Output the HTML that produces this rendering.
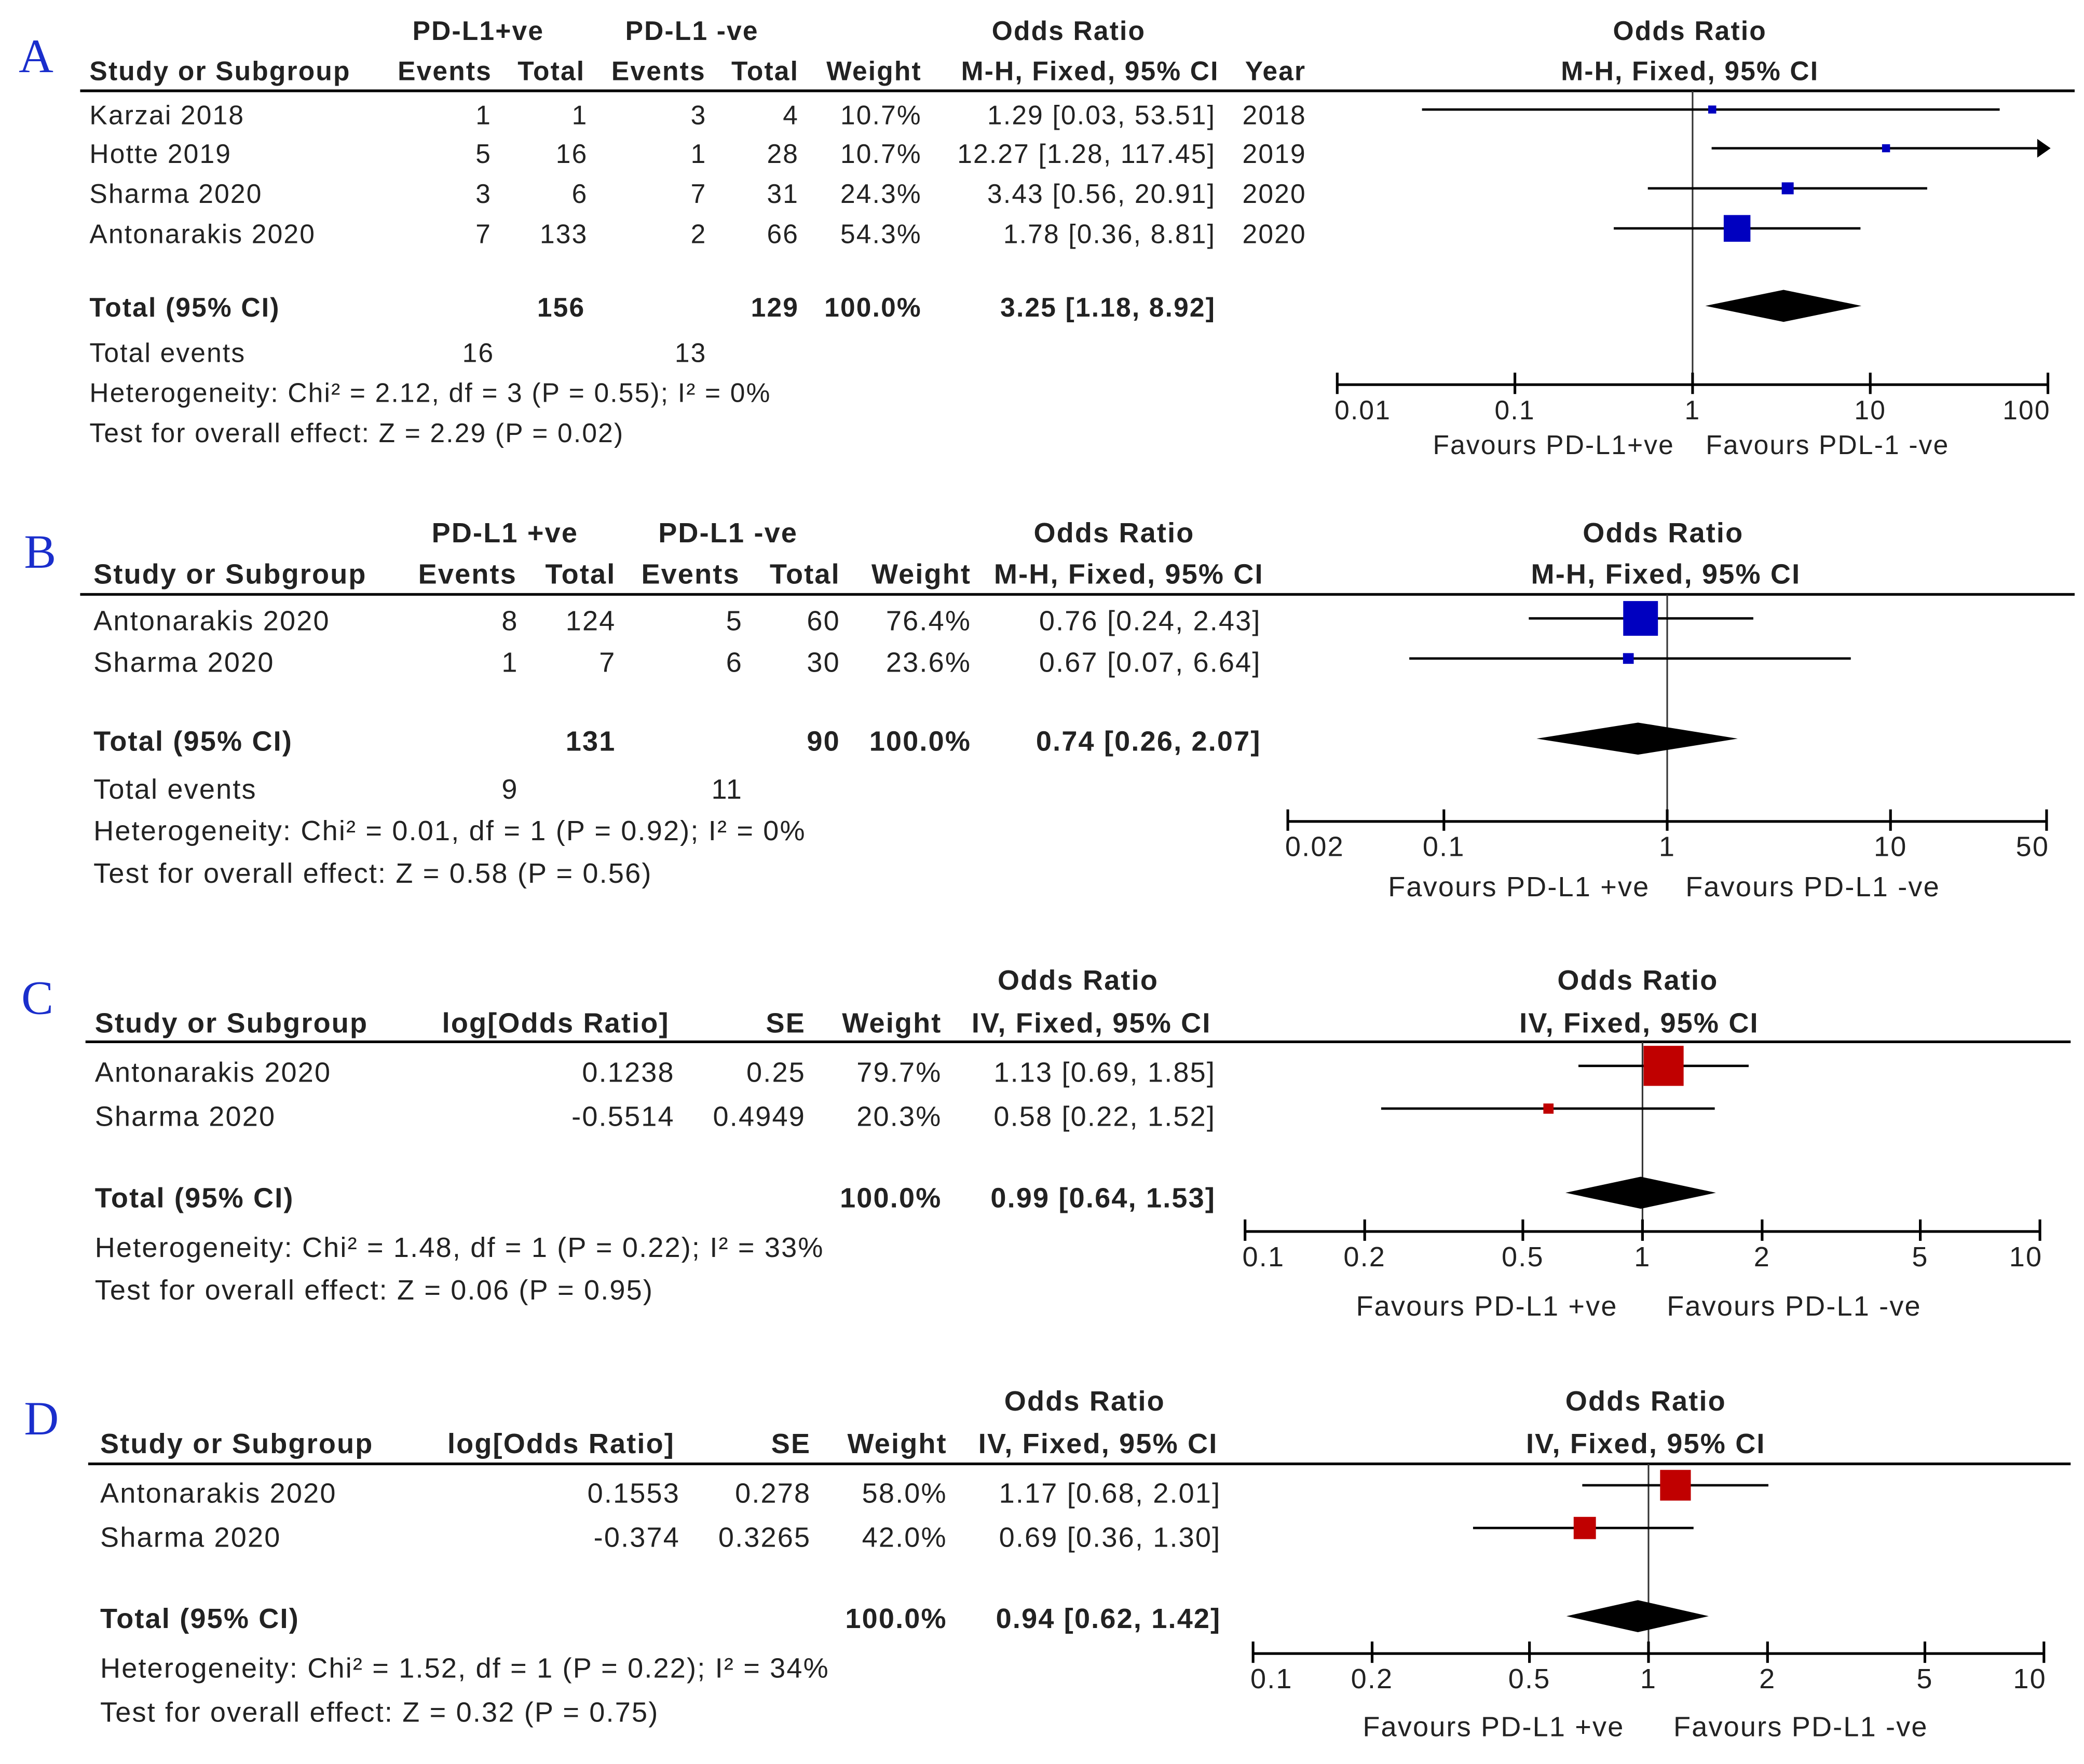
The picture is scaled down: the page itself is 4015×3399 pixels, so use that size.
<!DOCTYPE html>
<html><head><meta charset="utf-8"><style>
html,body{margin:0;padding:0;background:#fff}
svg{display:block}
text{font-family:"Liberation Sans",sans-serif;fill:#222;letter-spacing:0.85px}
.b{font-weight:bold;letter-spacing:0.6px}
.L{font-family:"Liberation Serif",serif;font-size:36px;fill:#1a2ecc;letter-spacing:0}
.e{text-anchor:end}.m{text-anchor:middle}
</style></head><body>
<svg id="fig" width="4015" height="3399" viewBox="0 0 1560 1320.7" preserveAspectRatio="none" xmlns="http://www.w3.org/2000/svg">
<rect width="1560" height="1321" fill="#fff"/>
<!-- Panel A -->
<g font-size="20">
<text class="L" x="14" y="54">A</text>
<g class="b">
<text class="m" x="358" y="30">PD-L1+ve</text><text class="m" x="518" y="30">PD-L1 -ve</text>
<text class="m" x="800" y="30">Odds Ratio</text><text class="m" x="1265" y="30">Odds Ratio</text>
<text x="67" y="60">Study or Subgroup</text><text class="m" x="333" y="60">Events</text><text class="e" x="438" y="60">Total</text>
<text class="m" x="493" y="60">Events</text><text class="e" x="598" y="60">Total</text><text class="e" x="690" y="60">Weight</text>
<text class="m" x="816" y="60">M-H, Fixed, 95% CI</text><text x="932" y="60">Year</text><text class="m" x="1265" y="60">M-H, Fixed, 95% CI</text>
</g>
<text x="67" y="93">Karzai 2018</text><text class="e" x="368" y="93">1</text><text class="e" x="440" y="93">1</text><text class="e" x="529" y="93">3</text><text class="e" x="598" y="93">4</text><text class="e" x="690" y="93">10.7%</text><text class="e" x="910" y="93">1.29 [0.03, 53.51]</text><text x="930" y="93">2018</text>
<text x="67" y="122">Hotte 2019</text><text class="e" x="368" y="122">5</text><text class="e" x="440" y="122">16</text><text class="e" x="529" y="122">1</text><text class="e" x="598" y="122">28</text><text class="e" x="690" y="122">10.7%</text><text class="e" x="910" y="122">12.27 [1.28, 117.45]</text><text x="930" y="122">2019</text>
<text x="67" y="152">Sharma 2020</text><text class="e" x="368" y="152">3</text><text class="e" x="440" y="152">6</text><text class="e" x="529" y="152">7</text><text class="e" x="598" y="152">31</text><text class="e" x="690" y="152">24.3%</text><text class="e" x="910" y="152">3.43 [0.56, 20.91]</text><text x="930" y="152">2020</text>
<text x="67" y="182">Antonarakis 2020</text><text class="e" x="368" y="182">7</text><text class="e" x="440" y="182">133</text><text class="e" x="529" y="182">2</text><text class="e" x="598" y="182">66</text><text class="e" x="690" y="182">54.3%</text><text class="e" x="910" y="182">1.78 [0.36, 8.81]</text><text x="930" y="182">2020</text>
<g class="b"><text x="67" y="237">Total (95% CI)</text><text class="e" x="438" y="237">156</text><text class="e" x="598" y="237">129</text><text class="e" x="690" y="237">100.0%</text><text class="e" x="910" y="237">3.25 [1.18, 8.92]</text></g>
<text x="67" y="271">Total events</text><text class="e" x="370" y="271">16</text><text class="e" x="529" y="271">13</text>
<text x="67" y="301">Heterogeneity: Chi² = 2.12, df = 3 (P = 0.55); I² = 0%</text>
<text x="67" y="331">Test for overall effect: Z = 2.29 (P = 0.02)</text>
<text class="m" x="1163" y="340">Favours PD-L1+ve</text><text class="m" x="1368" y="340">Favours PDL-1 -ve</text>
<g id="plotA"></g>
</g>
<!-- Panel B -->
<g font-size="21">
<text class="L" x="18" y="425">B</text>
<g class="b">
<text class="m" x="378" y="406">PD-L1 +ve</text><text class="m" x="545" y="406">PD-L1 -ve</text>
<text class="m" x="834" y="406">Odds Ratio</text><text class="m" x="1245" y="406">Odds Ratio</text>
<text x="70" y="437">Study or Subgroup</text><text class="m" x="350" y="437">Events</text><text class="e" x="461" y="437">Total</text>
<text class="m" x="517" y="437">Events</text><text class="e" x="629" y="437">Total</text><text class="e" x="727" y="437">Weight</text>
<text class="m" x="845" y="437">M-H, Fixed, 95% CI</text><text class="m" x="1247" y="437">M-H, Fixed, 95% CI</text>
</g>
<text x="70" y="472">Antonarakis 2020</text><text class="e" x="388" y="472">8</text><text class="e" x="461" y="472">124</text><text class="e" x="556" y="472">5</text><text class="e" x="629" y="472">60</text><text class="e" x="727" y="472">76.4%</text><text class="e" x="944" y="472">0.76 [0.24, 2.43]</text>
<text x="70" y="503">Sharma 2020</text><text class="e" x="388" y="503">1</text><text class="e" x="461" y="503">7</text><text class="e" x="556" y="503">6</text><text class="e" x="629" y="503">30</text><text class="e" x="727" y="503">23.6%</text><text class="e" x="944" y="503">0.67 [0.07, 6.64]</text>
<g class="b"><text x="70" y="562">Total (95% CI)</text><text class="e" x="461" y="562">131</text><text class="e" x="629" y="562">90</text><text class="e" x="727" y="562">100.0%</text><text class="e" x="944" y="562">0.74 [0.26, 2.07]</text></g>
<text x="70" y="598">Total events</text><text class="e" x="388" y="598">9</text><text class="e" x="556" y="598">11</text>
<text x="70" y="629">Heterogeneity: Chi² = 0.01, df = 1 (P = 0.92); I² = 0%</text>
<text x="70" y="661">Test for overall effect: Z = 0.58 (P = 0.56)</text>
<text class="m" x="1137" y="671">Favours PD-L1 +ve</text><text class="m" x="1357" y="671">Favours PD-L1 -ve</text>
<g id="plotB"></g>
</g>
<!-- Panel C -->
<g font-size="21">
<text class="L" x="16" y="759">C</text>
<g class="b">
<text class="m" x="807" y="741">Odds Ratio</text><text class="m" x="1226" y="741">Odds Ratio</text>
<text x="71" y="773">Study or Subgroup</text><text class="m" x="416" y="773">log[Odds Ratio]</text><text class="e" x="603" y="773">SE</text>
<text class="e" x="705" y="773">Weight</text><text class="m" x="817" y="773">IV, Fixed, 95% CI</text><text class="m" x="1227" y="773">IV, Fixed, 95% CI</text>
</g>
<text x="71" y="810">Antonarakis 2020</text><text class="e" x="505" y="810">0.1238</text><text class="e" x="603" y="810">0.25</text><text class="e" x="705" y="810">79.7%</text><text class="e" x="910" y="810">1.13 [0.69, 1.85]</text>
<text x="71" y="843">Sharma 2020</text><text class="e" x="505" y="843">-0.5514</text><text class="e" x="603" y="843">0.4949</text><text class="e" x="705" y="843">20.3%</text><text class="e" x="910" y="843">0.58 [0.22, 1.52]</text>
<g class="b"><text x="71" y="904">Total (95% CI)</text><text class="e" x="705" y="904">100.0%</text><text class="e" x="910" y="904">0.99 [0.64, 1.53]</text></g>
<text x="71" y="941">Heterogeneity: Chi² = 1.48, df = 1 (P = 0.22); I² = 33%</text>
<text x="71" y="973">Test for overall effect: Z = 0.06 (P = 0.95)</text>
<text class="m" x="1113" y="985">Favours PD-L1 +ve</text><text class="m" x="1343" y="985">Favours PD-L1 -ve</text>
<g id="plotC"></g>
</g>
<!-- Panel D -->
<g font-size="21">
<text class="L" x="18" y="1074">D</text>
<g class="b">
<text class="m" x="812" y="1056">Odds Ratio</text><text class="m" x="1232" y="1056">Odds Ratio</text>
<text x="75" y="1088">Study or Subgroup</text><text class="m" x="420" y="1088">log[Odds Ratio]</text><text class="e" x="607" y="1088">SE</text>
<text class="e" x="709" y="1088">Weight</text><text class="m" x="822" y="1088">IV, Fixed, 95% CI</text><text class="m" x="1232" y="1088">IV, Fixed, 95% CI</text>
</g>
<text x="75" y="1125">Antonarakis 2020</text><text class="e" x="509" y="1125">0.1553</text><text class="e" x="607" y="1125">0.278</text><text class="e" x="709" y="1125">58.0%</text><text class="e" x="914" y="1125">1.17 [0.68, 2.01]</text>
<text x="75" y="1158">Sharma 2020</text><text class="e" x="509" y="1158">-0.374</text><text class="e" x="607" y="1158">0.3265</text><text class="e" x="709" y="1158">42.0%</text><text class="e" x="914" y="1158">0.69 [0.36, 1.30]</text>
<g class="b"><text x="75" y="1219">Total (95% CI)</text><text class="e" x="709" y="1219">100.0%</text><text class="e" x="914" y="1219">0.94 [0.62, 1.42]</text></g>
<text x="75" y="1256">Heterogeneity: Chi² = 1.52, df = 1 (P = 0.22); I² = 34%</text>
<text x="75" y="1289">Test for overall effect: Z = 0.32 (P = 0.75)</text>
<text class="m" x="1118" y="1300">Favours PD-L1 +ve</text><text class="m" x="1348" y="1300">Favours PD-L1 -ve</text>
<g id="plotD"></g>
</g>
</svg>
<script>
// ---- data ----
const orA = [1.29, 12.27, 3.43, 1.78];
const loA = [0.03, 1.28, 0.56, 0.36];
const hiA = [53.51, 117.45, 20.91, 8.81];
const wA = [10.7, 10.7, 24.3, 54.3];
const totA = [3.25, 1.18, 8.92];
const ticksA = [0.01, 0.1, 1, 10, 100];
const tickLabelsA = ["0.01", "0.1", "1", "10", "100"];

const orB = [0.76, 0.67];
const loB = [0.24, 0.07];
const hiB = [2.43, 6.64];
const wB = [76.4, 23.6];
const totB = [0.74, 0.26, 2.07];
const ticksB = [0.02, 0.1, 1, 10, 50];
const tickLabelsB = ["0.02", "0.1", "1", "10", "50"];

const orC = [1.13, 0.58];
const loC = [0.69, 0.22];
const hiC = [1.85, 1.52];
const wC = [79.7, 20.3];
const totC = [0.99, 0.64, 1.53];
const ticksC = [0.1, 0.2, 0.5, 1, 2, 5, 10];
const tickLabelsC = ["0.1", "0.2", "0.5", "1", "2", "5", "10"];

const orD = [1.17, 0.69];
const loD = [0.68, 0.36];
const hiD = [2.01, 1.30];
const wD = [58.0, 42.0];
const totD = [0.94, 0.62, 1.42];
const ticksD = [0.1, 0.2, 0.5, 1, 2, 5, 10];
const tickLabelsD = ["0.1", "0.2", "0.5", "1", "2", "5", "10"];

const NS = "http://www.w3.org/2000/svg";
function mk(parent, tag, attrs) {
  const el = document.createElementNS(NS, tag);
  for (const k in attrs) el.setAttribute(k, attrs[k]);
  parent.appendChild(el);
  return el;
}
function drawPanel(cfg) {
  const g = document.getElementById(cfg.id);
  const lmin = Math.log10(cfg.ticks[0]), lmax = Math.log10(cfg.ticks[cfg.ticks.length - 1]);
  const xs = v => cfg.x0 + (Math.log10(v) - lmin) / (lmax - lmin) * (cfg.x1 - cfg.x0);
  const clamp = v => Math.max(cfg.ticks[0], Math.min(cfg.ticks[cfg.ticks.length - 1], v));
  const hr = mk(g, "line", {x1: cfg.lx0, x2: cfg.lx1, y1: cfg.hy, y2: cfg.hy, stroke: "#000", "stroke-width": 2});
  
  
  const nl = mk(g, "line", {x1: xs(1), x2: xs(1), y1: cfg.hy, y2: cfg.ay, stroke: "#333", "stroke-width": 1.2});
  
  
  const ax = mk(g, "line", {x1: xs(cfg.ticks[0]), x2: xs(cfg.ticks[cfg.ticks.length - 1]), y1: cfg.ay, y2: cfg.ay, stroke: "#000", "stroke-width": 2});
  
  
  cfg.ticks.forEach((t, i) => {
    const tk = mk(g, "line", {x1: xs(t), x2: xs(t), y1: cfg.ay - 9, y2: cfg.ay + 7, stroke: "#000", "stroke-width": 2});
    
    
    const lab = mk(g, "text", {x: xs(t), y: cfg.ay + 26, "text-anchor": i === 0 ? "start" : (i === cfg.ticks.length - 1 ? "end" : "middle")});
    if (i === 0) lab.setAttribute("x", xs(t) - 2);
    if (i === cfg.ticks.length - 1) lab.setAttribute("x", xs(t) + 2);
    lab.textContent = cfg.labels[i];
    
    
  });
  const wmax = Math.max(...cfg.w);
  cfg.or.forEach((v, i) => {
    const y = cfg.rows[i];
    const hi = clamp(cfg.hi[i]);
    const ci = mk(g, "line", {x1: xs(clamp(cfg.lo[i])), x2: xs(hi), y1: y, y2: y, stroke: "#000", "stroke-width": 1.8});
    
    
    if (cfg.hi[i] > cfg.ticks[cfg.ticks.length - 1]) {
      const xe = xs(hi);
      const ar = mk(g, "polygon", {points: `${xe+2},${y} ${xe-8},${y-7} ${xe-8},${y+7}`, fill: "#000"});
      
      
    }
    const s = Math.max(6, cfg.maxSide * cfg.w[i] / wmax);
    const sq = mk(g, "rect", {x: xs(v) - s / 2, y: y - s / 2, width: s, height: s, fill: cfg.color});
    
    
  });
  const [m, l, h] = cfg.tot;
  const dy = cfg.dy, hh = 12;
  const dm = mk(g, "polygon", {points: `${xs(l)},${dy} ${xs(m)},${dy-hh} ${xs(h)},${dy} ${xs(m)},${dy+hh}`, fill: "#000"});
  
  
}
drawPanel({id: "plotA", or: orA, lo: loA, hi: hiA, w: wA, tot: totA, ticks: ticksA, labels: tickLabelsA,
  x0: 1001, x1: 1533, ay: 288, hy: 68, lx0: 60, lx1: 1553, rows: [82, 111, 141, 171], dy: 229, maxSide: 20, color: "#0000c0"});
drawPanel({id: "plotB", or: orB, lo: loB, hi: hiB, w: wB, tot: totB, ticks: ticksB, labels: tickLabelsB,
  x0: 964, x1: 1532, ay: 615, hy: 445, lx0: 60, lx1: 1553, rows: [463, 493], dy: 553, maxSide: 26, color: "#0000c0"});
drawPanel({id: "plotC", or: orC, lo: loC, hi: hiC, w: wC, tot: totC, ticks: ticksC, labels: tickLabelsC,
  x0: 932, x1: 1527, ay: 922, hy: 780, lx0: 64, lx1: 1550, rows: [798, 830], dy: 893, maxSide: 30, color: "#c00000"});
drawPanel({id: "plotD", or: orD, lo: loD, hi: hiD, w: wD, tot: totD, ticks: ticksD, labels: tickLabelsD,
  x0: 938, x1: 1530, ay: 1238, hy: 1096, lx0: 66, lx1: 1550, rows: [1112, 1144], dy: 1210, maxSide: 23, color: "#c00000"});
</script>
</body></html>
